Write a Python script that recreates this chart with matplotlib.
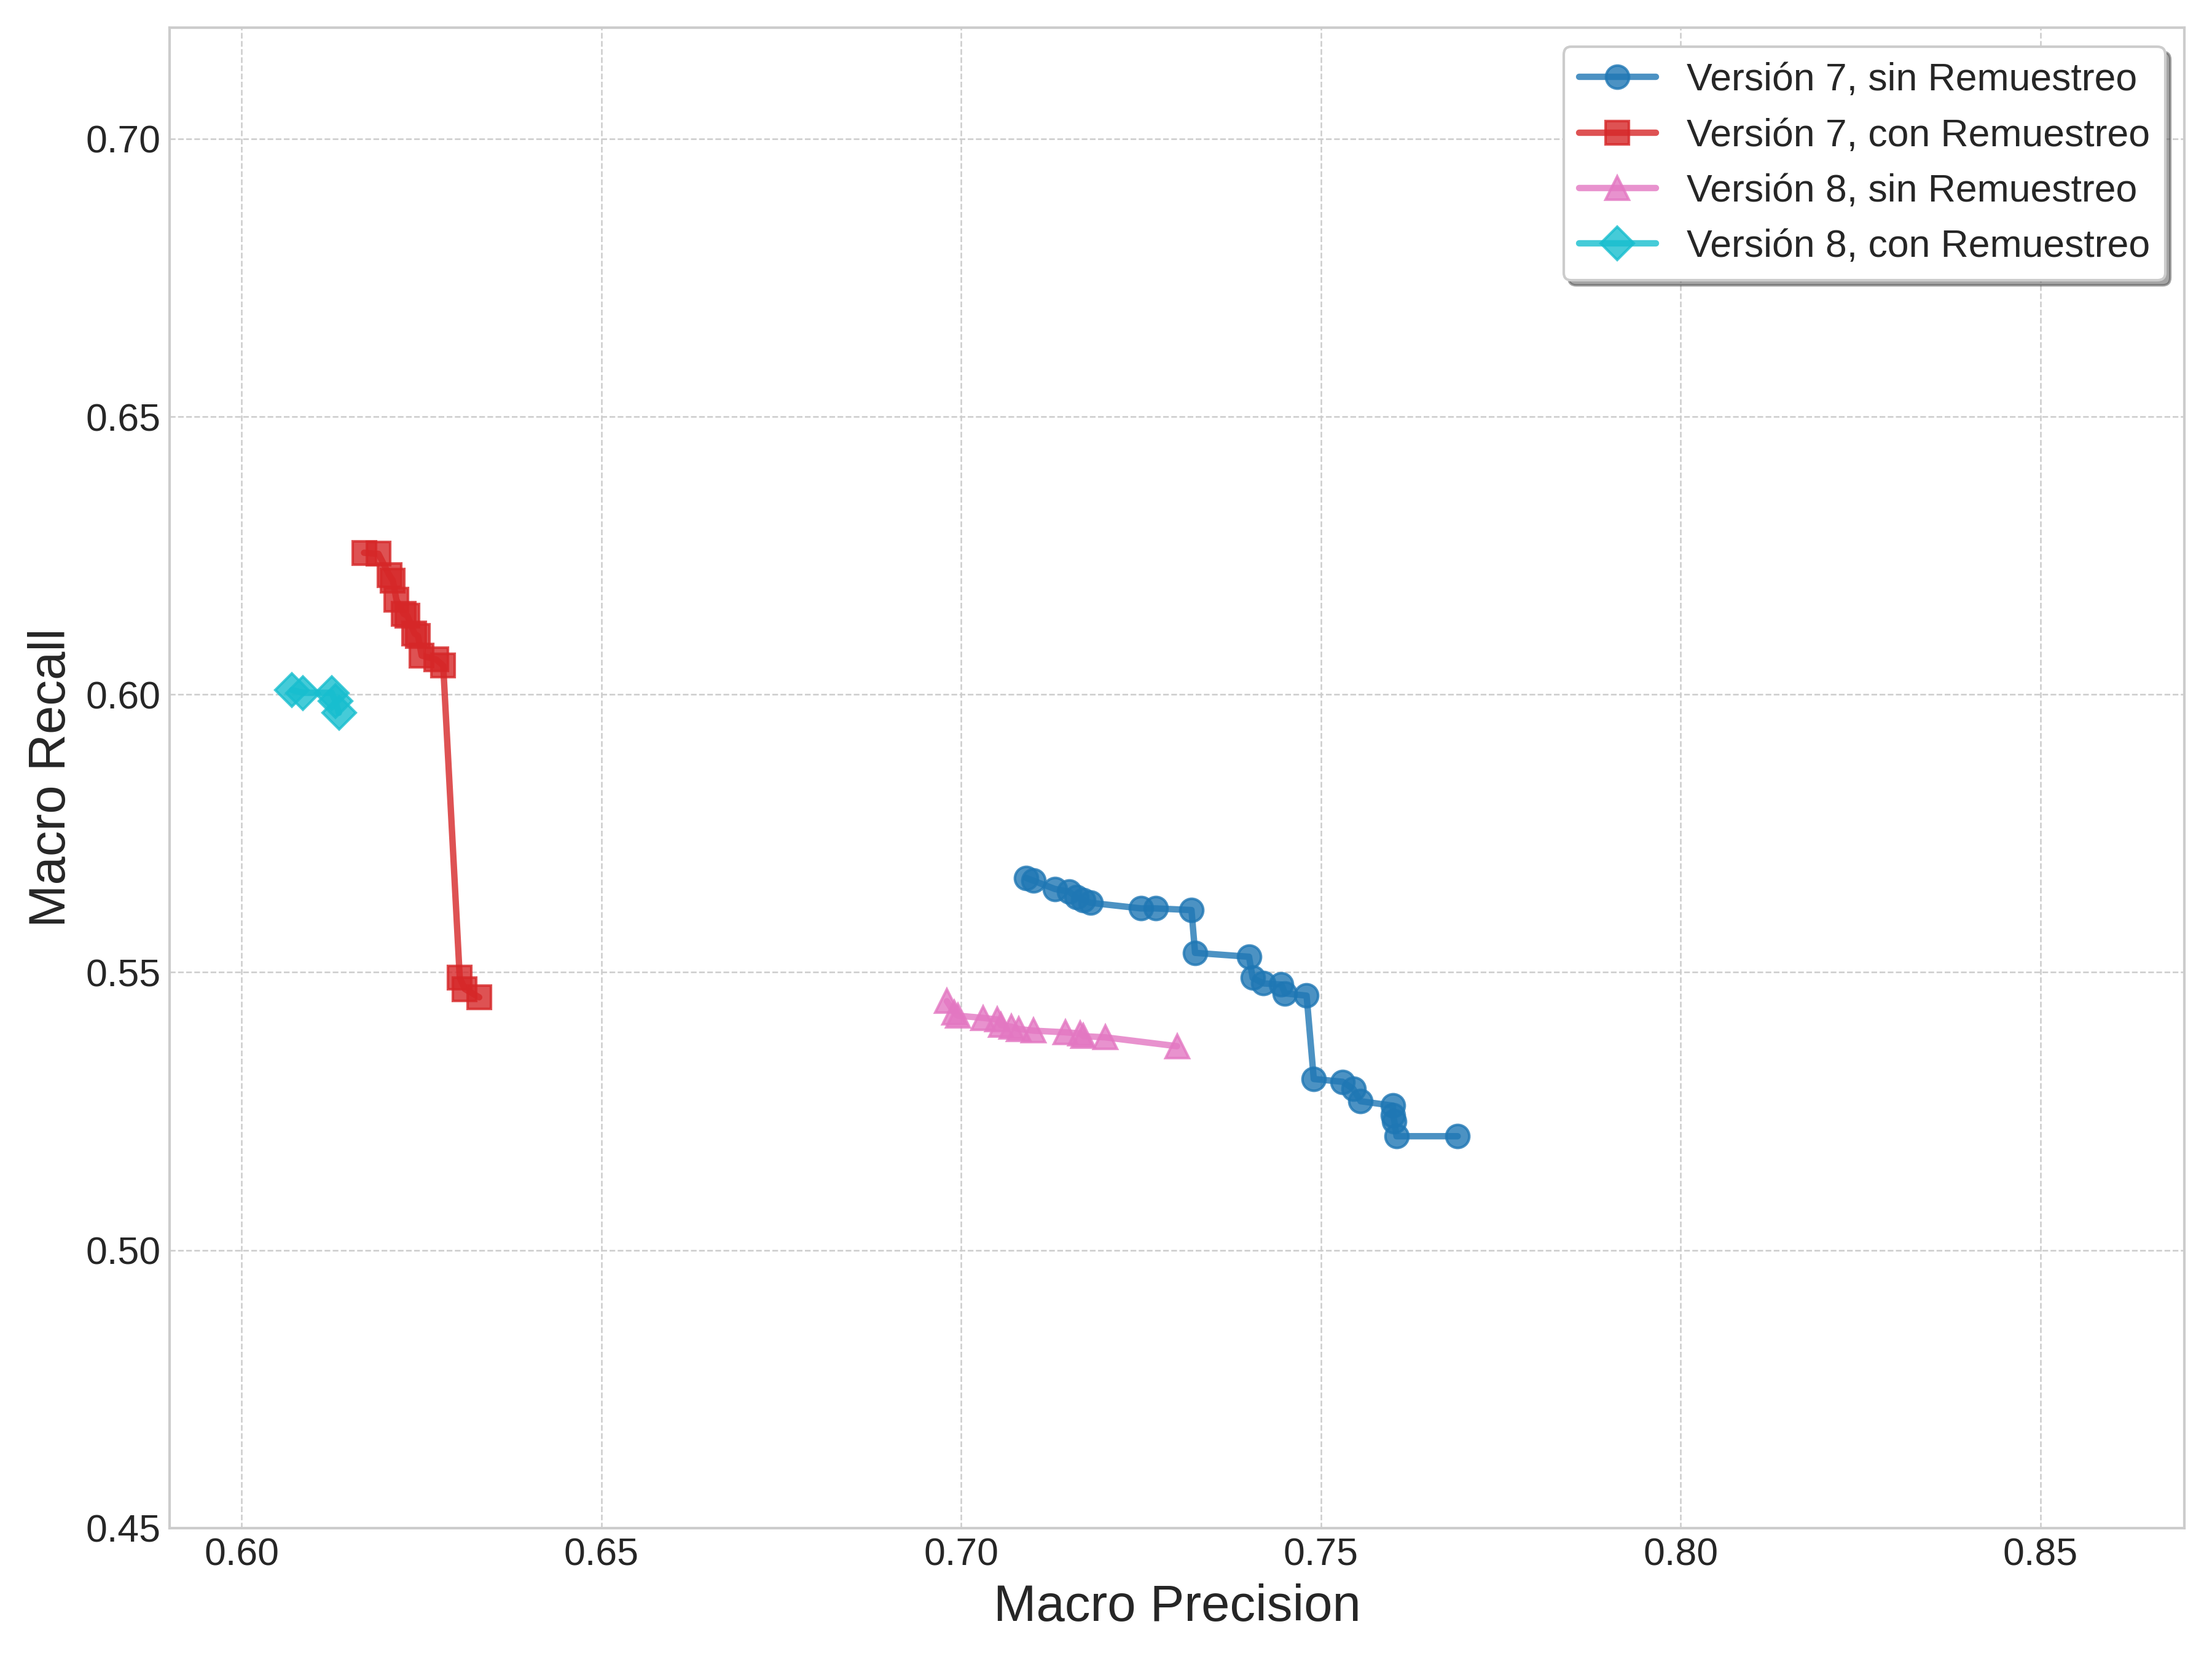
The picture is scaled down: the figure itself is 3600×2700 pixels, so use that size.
import matplotlib.pyplot as plt

# Version 7, sin remuestreo
v7_sin_prec = [0.709, 0.710, 0.713, 0.715, 0.716, 0.717, 0.718, 0.725, 0.727, 0.732,
               0.7325, 0.740, 0.7405, 0.742, 0.7445, 0.745, 0.748, 0.749, 0.753,
               0.7545, 0.7555, 0.760, 0.760, 0.7602, 0.7605, 0.769]
v7_sin_rec = [0.567, 0.5665, 0.565, 0.5645, 0.5635, 0.563, 0.5625, 0.5615, 0.5615, 0.5612,
              0.5535, 0.5528, 0.549, 0.548, 0.5478, 0.5462, 0.5458, 0.5308, 0.5303,
              0.529, 0.5268, 0.526, 0.5243, 0.5232, 0.5205, 0.5205]

# Version 7, con remuestreo
v7_con_prec = [0.617, 0.619, 0.6205, 0.621, 0.6215, 0.6225, 0.623, 0.624, 0.6245,
               0.625, 0.627, 0.628, 0.6303, 0.631, 0.633]
v7_con_rec = [0.6255, 0.6253, 0.6215, 0.6205, 0.617, 0.6145, 0.6142, 0.611, 0.6105,
              0.607, 0.6063, 0.6052, 0.549, 0.547, 0.5455]

# Version 8, sin remuestreo
v8_sin_prec = [0.698, 0.699, 0.6995, 0.703, 0.705, 0.7055, 0.707, 0.708, 0.710,
               0.7145, 0.7165, 0.717, 0.720, 0.730]
v8_sin_rec = [0.5448, 0.5428, 0.5422, 0.5418, 0.5415, 0.5405, 0.5402, 0.5398, 0.5395,
              0.5392, 0.539, 0.5385, 0.5383, 0.5367]

# Version 8, con remuestreo
v8_con_prec = [0.607, 0.6085, 0.6125, 0.613, 0.6135]
v8_con_rec = [0.6008, 0.6003, 0.6003, 0.5988, 0.5967]

plt.style.use("seaborn-v0_8-whitegrid")
plt.rcParams["font.family"] = ["Arial", "Liberation Sans", "DejaVu Sans"]

fig, ax = plt.subplots(figsize=(12, 9), dpi=300)

ax.plot(v7_sin_prec, v7_sin_rec, marker="o", color="#1f77b4", lw=2.5, ms=9,
        alpha=0.8, label="Versión 7, sin Remuestreo")
ax.plot(v7_con_prec, v7_con_rec, marker="s", color="#d62728", lw=2.5, ms=9,
        alpha=0.8, label="Versión 7, con Remuestreo")
ax.plot(v8_sin_prec, v8_sin_rec, marker="^", color="#e377c2", lw=2.5, ms=9,
        alpha=0.8, label="Versión 8, sin Remuestreo")
ax.plot(v8_con_prec, v8_con_rec, marker="D", color="#17becf", lw=2.5, ms=9,
        alpha=0.8, label="Versión 8, con Remuestreo")

ax.set_xlim(0.59, 0.87)
ax.set_ylim(0.45, 0.72)
ax.set_xticks([0.60, 0.65, 0.70, 0.75, 0.80, 0.85])
ax.set_yticks([0.45, 0.50, 0.55, 0.60, 0.65, 0.70])
ax.tick_params(labelsize=15)
ax.set_xlabel("Macro Precision", fontsize=20)
ax.set_ylabel("Macro Recall", fontsize=20)
ax.grid(True, linestyle="--", linewidth=0.6, color="#cccccc")
for s in ax.spines.values():
    s.set_visible(True)
    s.set_color("#cccccc")

ax.legend(loc="upper right", fontsize=15, frameon=True, shadow=True, fancybox=True)

fig.tight_layout()
fig.savefig("out.png")
